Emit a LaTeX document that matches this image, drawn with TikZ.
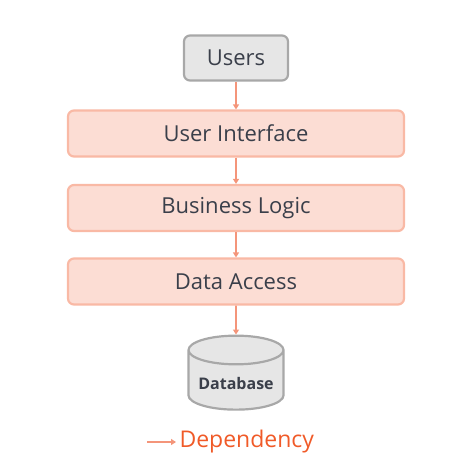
\documentclass[tikz,border=0pt]{standalone}
\usepackage{fontspec}
\setmainfont{Open Sans}
\usetikzlibrary{shapes.geometric,arrows.meta}
\definecolor{layerfill}{HTML}{FCDDD4}
\definecolor{layerline}{HTML}{F9B9A5}
\definecolor{greyfill}{HTML}{E6E6E6}
\definecolor{greyline}{HTML}{A8A8A8}
\definecolor{deparrow}{HTML}{F4957A}
\definecolor{deptext}{HTML}{F05A28}
\definecolor{labeltext}{HTML}{3A3F4A}
\tikzset{
  layer/.style={draw=layerline, fill=layerfill, line width=2.2pt, rounded corners=6pt,
    minimum width=336pt, minimum height=46pt, text=labeltext, font=\fontsize{22}{26}\selectfont},
  actor/.style={draw=greyline, fill=greyfill, line width=2.2pt, rounded corners=6pt,
    minimum width=104pt, minimum height=45pt, text=labeltext, font=\fontsize{22}{26}\selectfont},
  store/.style={cylinder, shape border rotate=90, aspect=0.35, draw=greyline, fill=greyfill,
    line width=2.2pt, minimum width=95pt, minimum height=74pt, text=labeltext,
    font=\fontsize{16}{19}\selectfont\bfseries},
  dep/.style={draw=deparrow, line width=1.6pt, -{Triangle[length=5pt,width=6pt]}}
}
\begin{document}
\begin{tikzpicture}[x=1pt, y=-1pt]
    \useasboundingbox (0,0) rectangle (465,464);
    \node [actor] (users) at (236,58) {Users};
    \node [layer] (ui) at (236,133.5) {User Interface};
    \node [layer] (logic) at (236,208) {Business Logic};
    \node [layer] (data) at (236,281.5) {Data Access};
    \node [store] (db) at (236,383) {Database};
    \draw [dep] (users) -- (ui);
    \draw [dep] (ui) -- (logic);
    \draw [dep] (logic) -- (data);
    \draw [dep] (data) -- (db);
    % legend
    \coordinate (legstart) at (147,442);
    \node [anchor=west, text=deptext, font=\fontsize{23}{27}\selectfont] (legend) at (176,442) {Dependency};
    \draw [dep, line width=1.3pt] (legstart) -- (legend.west);
\end{tikzpicture}
\end{document}
